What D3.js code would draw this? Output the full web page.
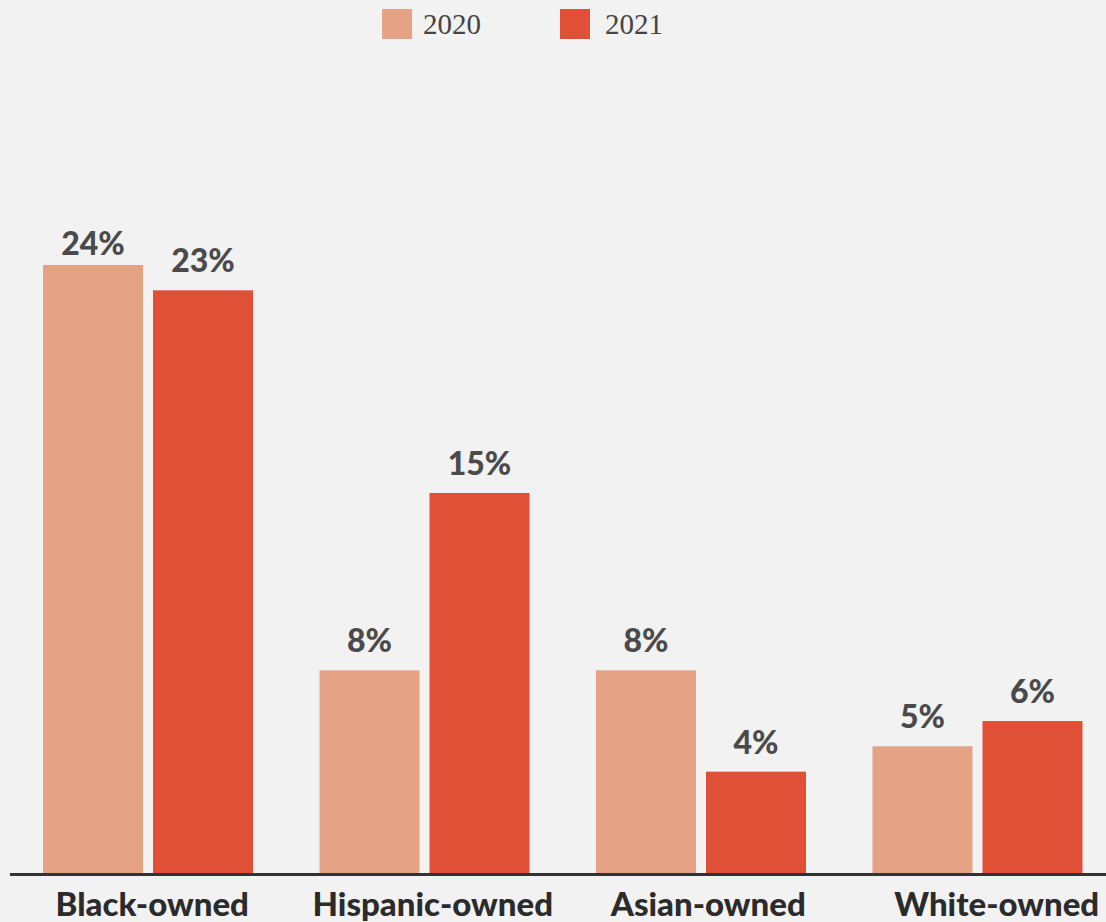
<html lang='en'>
	<head>
		<title>Business ownership by year</title>
		<script src="https://d3js.org/d3.v7.min.js" charset="utf-8"></script>
		<style type="text/css">
			body{
				margin: 0;
				background: #f2f2f2;
			}
			.value{
				font-family: Lato, sans-serif;
				font-weight: 900;
				font-size: 32px;
				fill: #4a4a4a;
			}
			.cat{
				font-family: Lato, sans-serif;
				font-weight: 900;
				font-size: 33px;
				fill: #2b2b2b;
			}
			.legend text{
				font-family: "Liberation Serif", serif;
				font-size: 29px;
				fill: #444;
			}
		</style>
	</head>
	<body>
		<div class="main"></div>
		<script>
			// data
			var categories = ["Black-owned", "Hispanic-owned", "Asian-owned", "White-owned"]
			var years = ["2020", "2021"]
			var values2020 = [24, 8, 8, 5]
			var values2021 = [23, 15, 4, 6]
			var colors = ["#e5a284", "#e05037"]

			var width = 1106
			var height = 922
			var svg = d3.select(".main")
				.append("svg")
				.attr("width", width)
				.attr("height", height)

			var baseline = 873

			var x0 = d3.scaleBand()
				.domain(categories)
				.range([10, 1116])
			// inner scale for the two bars in each group
			var x1 = d3.scaleBand()
				.domain(years)
				.range([33, 33 + 210])
				.paddingInner(10 / 110)

			var y = d3.scaleLinear()
				.domain([0, 24])
				.range([baseline, 265])

			var rows = categories.map(function(c, i){
				return {cat: c, vals: [values2020[i], values2021[i]]}
			})

			var groups = svg.selectAll("g.group")
				.data(rows)
				.enter()
				.append("g")
				.attr("class", "group")
				.attr("transform", function(d){ return "translate(" + x0(d.cat) + ",0)" })

			groups.selectAll("rect")
				.data(function(d){ return d.vals.map(function(v, j){ return {year: years[j], v: v, j: j} }) })
				.enter()
				.append("rect")
				.attr("x", function(d){ return x1(d.year) })
				.attr("width", x1.bandwidth())
				.attr("y", function(d){ return y(d.v) })
				.attr("height", function(d){ return baseline - y(d.v) })
				.attr("fill", function(d){ return colors[d.j] })

			groups.selectAll("text.value")
				.data(function(d){ return d.vals.map(function(v, j){ return {year: years[j], v: v} }) })
				.enter()
				.append("text")
				.attr("class", "value")
				.attr("text-anchor", "middle")
				.attr("x", function(d){ return x1(d.year) + x1.bandwidth() / 2 })
				.attr("y", function(d){ return Math.max(y(d.v) - 18, 255) })
				.text(function(d){ return d.v + "%" })

			// axis line
			svg.append("line")
				.attr("x1", 10)
				.attr("x2", width)
				.attr("y1", baseline + 1.5)
				.attr("y2", baseline + 1.5)
				.attr("stroke", "#333")
				.attr("stroke-width", 3)

			var labelShift = [4, 8, 7, 19]
			svg.selectAll("text.cat")
				.data(categories)
				.enter()
				.append("text")
				.attr("class", "cat")
				.attr("text-anchor", "middle")
				.attr("x", function(d, i){ return x0(d) + x0.bandwidth() / 2 + labelShift[i] })
				.attr("y", 916)
				.text(function(d){ return d })

			// legend
			var legendX = [382, 560]
			var legend = svg.append("g").attr("class", "legend")
			var items = legend.selectAll("g")
				.data(years)
				.enter()
				.append("g")
				.attr("transform", function(d, i){ return "translate(" + legendX[i] + ",9)" })
			items.append("rect")
				.attr("width", 30)
				.attr("height", 30)
				.attr("fill", function(d, i){ return colors[i] })
			items.append("text")
				.attr("x", function(d, i){ return i == 0 ? 41 : 45 })
				.attr("y", 25)
				.text(function(d){ return d })
		</script>
	</body>
</html>
